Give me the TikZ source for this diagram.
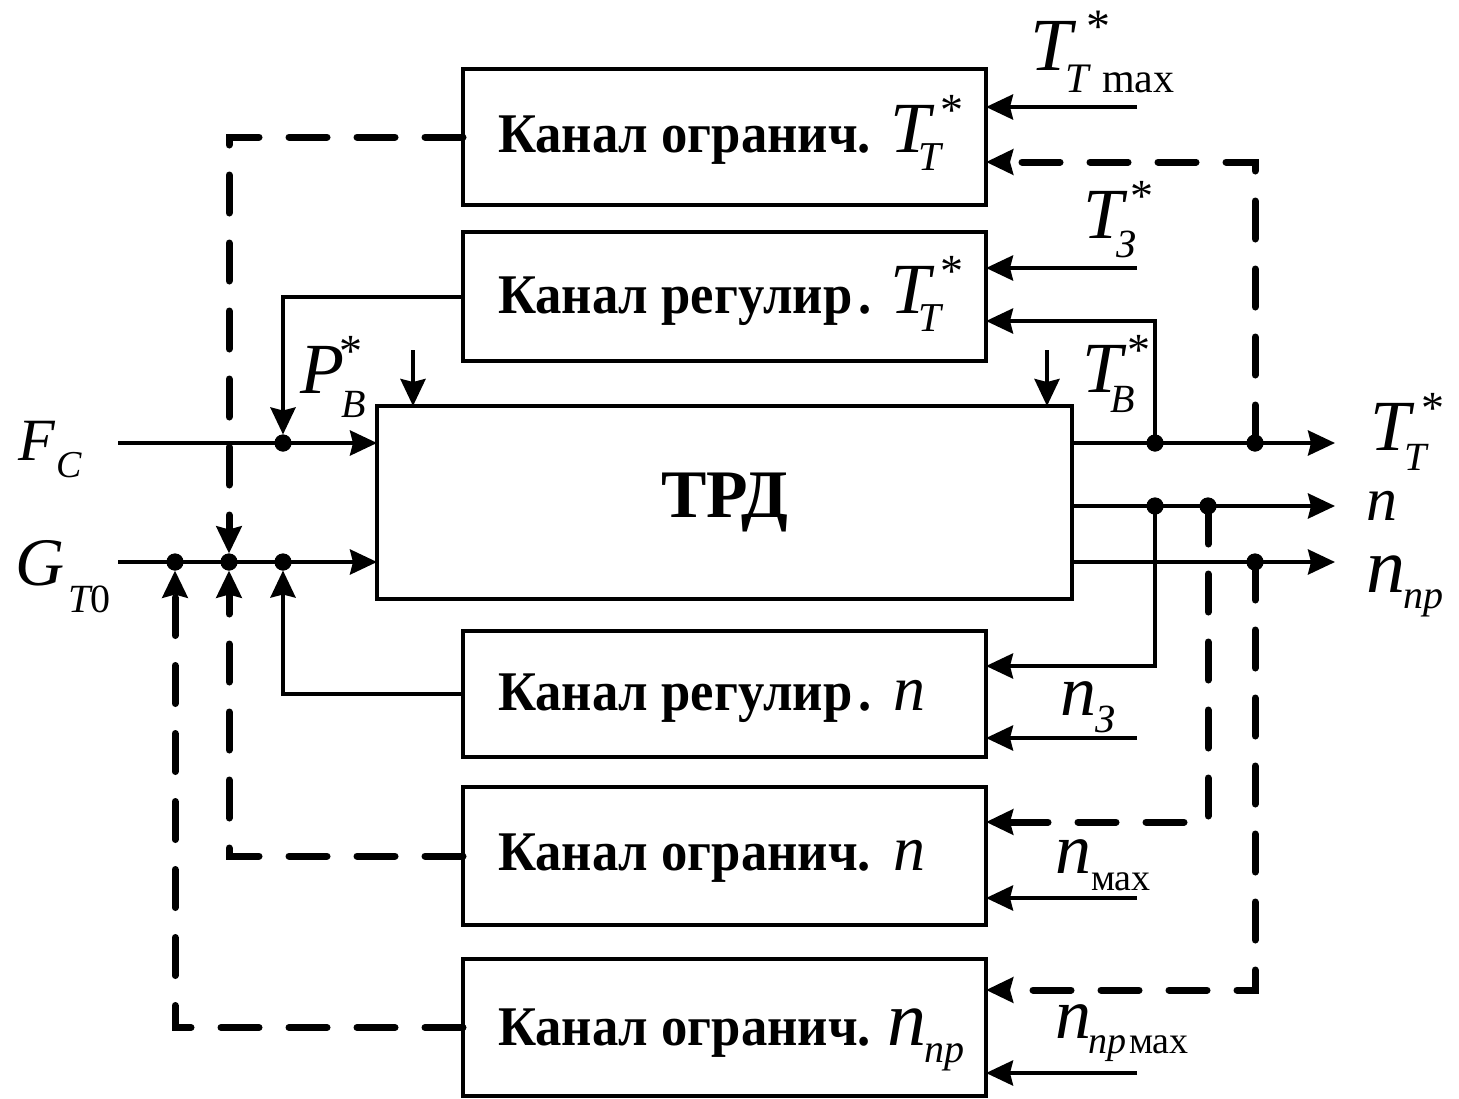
\documentclass[tikz,border=0pt]{standalone}
\usepackage{fontspec}
\setmainfont{Liberation Serif}
\newfontfamily\narrowfont[FakeStretch=0.94]{Liberation Serif}
\usetikzlibrary{arrows.meta}
\newcommand\fs[1]{\fontsize{#1}{#1}\selectfont}
\newcommand\Astr[3]{\rlap{\kern#1\raisebox{#2}{\normalfont\fs{#3}*}}}
\newcommand\Sb[3]{\kern#1\raisebox{-#2}{#3}}
\begin{document}
\begin{tikzpicture}[x=1pt,y=-1pt,
  every node/.style={inner sep=0pt, outer sep=0pt},
  blk/.style={draw, line width=4pt, minimum width=523pt},
  sol/.style={line width=4pt},
  dsh/.style={line width=7pt, dash pattern=on 38pt off 30pt, line cap=round},
  arr/.style={-{Stealth[length=27pt,width=25pt,inset=3pt]}},
  dot/.style={circle, fill, minimum size=17pt},
  lbl/.style={anchor=base west},
  txt/.style={anchor=base west, font=\fs{56}\narrowfont\bfseries}]
\useasboundingbox (0,0) rectangle (1459,1098);
% blocks
\node[blk, minimum height=136pt] (b1) at (724.5,137) {};
\node[blk, minimum height=129pt] (b2) at (724.5,296.5) {};
\node[draw, line width=4pt, minimum width=695pt, minimum height=193pt] (trd) at (724.5,502.5) {};
\node[blk, minimum height=126pt] (b3) at (724.5,694) {};
\node[blk, minimum height=138pt] (b4) at (724.5,856) {};
\node[blk, minimum height=137pt] (b5) at (724.5,1027.5) {};
% block texts
\node[txt] (t1) at (498,152) {\makebox[392pt][l]{Канал огранич.}{\normalfont\fs{72}\itshape T\Astr{10pt}{27pt}{46}\Sb{-12pt}{18pt}{\fs{41}T}}};
\node[txt] (t2) at (498,313) {\makebox[392pt][l]{Канал регулир\kern6pt.}{\normalfont\fs{72}\itshape T\Astr{10pt}{27pt}{46}\Sb{-12pt}{18pt}{\fs{41}T}}};
\node[txt] (t3) at (498,710) {\makebox[395pt][l]{Канал регулир\kern6pt.}{\normalfont\fs{64}\itshape n}};
\node[txt] (t4) at (498,870) {\makebox[395pt][l]{Канал огранич.}{\normalfont\fs{64}\itshape n}};
\node[txt] (t5) at (498,1045) {\makebox[389pt][l]{Канал огранич.}{\normalfont\fs{78}\itshape n\Sb{-2pt}{17pt}{\fs{40}пр}}};
\node[font=\fs{68}\bfseries] (tt) at (trd.center) {ТРД};
% outer labels
\node[lbl] (Ltmax) at (1030,70) {\fs{75}\itshape T\Astr{15pt}{28pt}{48}\Sb{-6pt}{22pt}{\fs{42}T\kern13pt\upshape max}};
\node[lbl] (Lt3) at (1083,238) {\fs{72}\itshape T\Astr{7pt}{27pt}{46}\Sb{-7pt}{19pt}{\fs{40}З}};
\node[lbl] (Ltb) at (1082,392) {\fs{72}\itshape T\Astr{5pt}{27pt}{46}\Sb{-12pt}{20pt}{\fs{40}B}};
\node[lbl] (Lpb) at (300,393) {\fs{72}\itshape P\Astr{-4pt}{27pt}{46}\Sb{-2pt}{24pt}{\fs{40}B}};
\node[lbl] (Lfc) at (18,460) {\fs{60}\itshape F\Sb{2pt}{17pt}{\fs{38}C}};
\node[lbl] (Lgt) at (15,585) {\fs{68}\itshape G\Sb{4pt}{27pt}{\fs{40}T\upshape 0}};
\node[lbl] (Ltt) at (1370,450) {\fs{72}\itshape T\Astr{11pt}{27pt}{46}\Sb{-6pt}{20pt}{\fs{40}T}};
\node[lbl] (Ln) at (1366,520) {\fs{62}\itshape n};
\node[lbl] (Lnp) at (1366,592) {\fs{78}\itshape n\Sb{-2pt}{16pt}{\fs{40}пр}};
\node[lbl] (Ln3) at (1060,715) {\fs{72}\itshape n\Sb{-1pt}{17pt}{\fs{40}З}};
\node[lbl] (Lnm) at (1055,873) {\fs{72}\itshape n\Sb{0pt}{17pt}{\fs{38}\upshape мах}};
\node[lbl] (Lnpm) at (1055,1038) {\fs{72}\itshape n\Sb{-3pt}{15pt}{\fs{38}пр\kern3pt\upshape мах}};
% junction dots
\node[dot] (dF) at (283,443) {};
\node[dot] (dG1) at (175,562) {};
\node[dot] (dG2) at (229,562) {};
\node[dot] (dG3) at (283,562) {};
\node[dot] (dT1) at (1155,443) {};
\node[dot] (dT2) at (1255,443) {};
\node[dot] (dN1) at (1155,506) {};
\node[dot] (dN2) at (1208,506) {};
\node[dot] (dP) at (1255,562) {};
% free ends
\coordinate (fS) at (118,443);
\coordinate (gS) at (118,562);
\coordinate (oT) at (1335,443);
\coordinate (oN) at (1335,506);
\coordinate (oP) at (1335,562);
\coordinate (pbS) at (413,350);
\coordinate (tbS) at (1047,350);
\coordinate (tmaxS) at (1137,107);
\coordinate (t3S) at (1137,268);
\coordinate (n3S) at (1137,738);
\coordinate (nmS) at (1137,898);
\coordinate (npmS) at (1137,1073);
\coordinate (cT1) at (1155,321);
\coordinate (cT2) at (1255,162);
\coordinate (cN1) at (1155,666);
\coordinate (cN2) at (1208,822);
\coordinate (cP) at (1255,990);
% main lines
\draw[sol,arr] (fS) -- (trd.west |- fS);
\draw[sol,arr] (gS) -- (trd.west |- gS);
\draw[sol,arr] (pbS) -- (pbS |- trd.north);
\draw[sol,arr] (tbS) -- (tbS |- trd.north);
\draw[sol,arr] (trd.east |- oT) -- (oT);
\draw[sol,arr] (trd.east |- oN) -- (oN);
\draw[sol,arr] (trd.east |- oP) -- (oP);
% set-point inputs
\draw[sol,arr] (tmaxS) -- (b1.east |- tmaxS);
\draw[sol,arr] (t3S) -- (b2.east |- t3S);
\draw[sol,arr] (n3S) -- (b3.east |- n3S);
\draw[sol,arr] (nmS) -- (b4.east |- nmS);
\draw[sol,arr] (npmS) -- (b5.east |- npmS);
% feedback
\draw[sol,arr] (dT1.center) -- (cT1) -- (b2.east |- cT1);
\draw[sol,arr] (dN1.center) -- (cN1) -- (b3.east |- cN1);
\draw[dsh,arr] (dT2.center) -- (cT2) -- (b1.east |- cT2);
\draw[dsh,arr] (dN2.center) -- (cN2) -- (b4.east |- cN2);
\draw[dsh,arr] (dP.center) -- (cP) -- (b5.east |- cP);
% outputs of channels
\draw[sol,arr] (b2.west) -| (dF);
\draw[sol,arr] (b3.west) -| (dG3);
\draw[dsh,arr] (b1.west) -| (dG2);
\draw[dsh,arr] (b4.west) -| (dG2);
\draw[dsh,arr] (b5.west) -| (dG1);
% redraw dots on top
\foreach \d in {dF,dG1,dG2,dG3,dT1,dT2,dN1,dN2,dP} \fill (\d) circle (8.5pt);
\end{tikzpicture}
\end{document}
